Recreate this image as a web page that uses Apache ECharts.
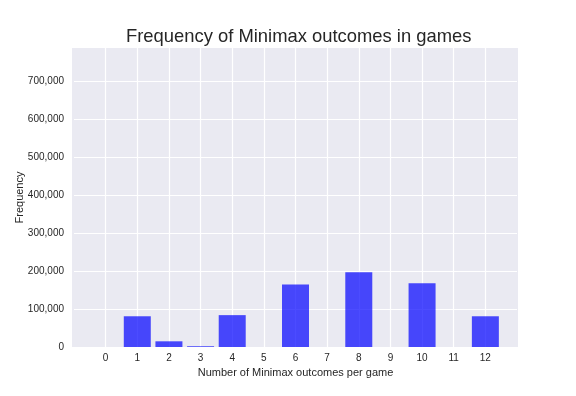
<!DOCTYPE html>
<html>
<head>
<meta charset="utf-8">
<script src="https://cdn.jsdelivr.net/npm/echarts@6/dist/echarts.min.js"></script>
<style>
  html, body { margin: 0; padding: 0; background: #fff; }
  #chart { width: 576px; height: 396px; }
</style>
</head>
<body>
<div id="chart"></div>
<script>
    'use strict';
    // outcomes per game and how often they happen
    var outcomes = [1, 2, 3, 4, 6, 8, 10, 12];
    var counts = [81000, 15000, 2000, 84000, 165000, 197000, 168000, 81000];
    var xTicks = [0, 1, 2, 3, 4, 5, 6, 7, 8, 9, 10, 11, 12];

    var font = '"Liberation Sans", Arial, sans-serif';
    var ink = '#262626';

    var myChart = echarts.init(document.getElementById('chart'));

    var option = {
        backgroundColor: '#ffffff',
        animation: false,
        textStyle: { fontFamily: font },
        title: {
            text: 'Frequency of Minimax outcomes in games',
            left: 121,
            top: 23,
            textStyle: { fontFamily: font, fontSize: 18.4, fontWeight: 'normal', color: ink }
        },
        // plot background reaches slightly past the axis range, like matplotlib margins
        graphic: [{
            type: 'rect', z: -10, silent: true,
            shape: { x: 72, y: 48, width: 446, height: 299 },
            style: { fill: '#eaeaf2' }
        }],
        grid: {
            left: 74, right: 59, top: 48, bottom: 49,
            show: false
        },
        xAxis: {
            type: 'value',
            min: -1, max: 13, interval: 1,
            name: 'Number of Minimax outcomes per game',
            nameLocation: 'middle', nameGap: 19,
            nameTextStyle: { fontFamily: font, fontSize: 11, color: ink },
            axisLine: { show: false },
            axisTick: { show: false },
            axisLabel: {
                margin: 6, fontSize: 10, color: ink, fontFamily: font,
                formatter: function (v) {
                    return xTicks.indexOf(v) >= 0 ? String(v) : '';
                }
            },
            splitLine: {
                showMinLine: false, showMaxLine: false,
                lineStyle: { color: '#ffffff', width: 1.2 }
            }
        },
        yAxis: {
            type: 'value',
            min: 0, max: 788000, interval: 100000,
            name: 'Frequency',
            nameLocation: 'middle', nameGap: 49, nameRotate: 90,
            nameMoveOverlap: false,
            nameTextStyle: { fontFamily: font, fontSize: 11, color: ink },
            axisLine: { show: false },
            axisTick: { show: false },
            axisLabel: {
                margin: 10, fontSize: 10, color: ink, fontFamily: font,
                showMaxLabel: false,
                formatter: function (v) {
                    return v.toString().replace(/\B(?=(\d{3})+(?!\d))/g, ',');
                }
            },
            splitLine: {
                showMaxLine: false,
                lineStyle: { color: '#ffffff', width: 1.2 }
            }
        },
        series: [{
            type: 'bar',
            barWidth: 27,
            itemStyle: { color: 'rgba(0, 0, 255, 0.7)' },
            data: outcomes.map(function (o, i) { return [o, counts[i]]; })
        }]
    };

    myChart.setOption(option);
</script>
</body>
</html>
